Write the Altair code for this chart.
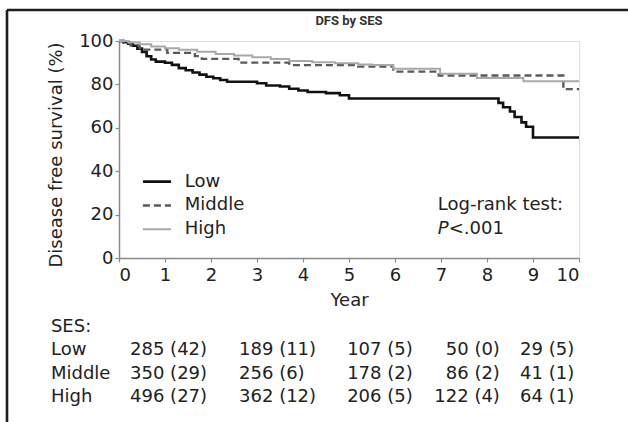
import altair as alt
import pandas as pd

# ---- survival curves (Kaplan-Meier, step-after) ----
groups = ["Low", "Middle", "High"]

t_low = [0, 0.1, 0.2, 0.3, 0.4, 0.5, 0.6, 0.7, 0.8, 1.0, 1.15, 1.3, 1.45, 1.6, 1.75, 1.9,
         2.05, 2.2, 2.35, 3.0, 3.2, 3.5, 3.7, 3.9, 4.1, 4.5, 4.8, 5.0,
         8.25, 8.35, 8.5, 8.6, 8.75, 8.85, 9.0, 10]
s_low = [100, 99.5, 98.8, 97.8, 96.5, 95, 93, 91.5, 90.5, 90, 89, 87.5, 86.5, 85.5, 84.5, 83.5,
         82.8, 82, 81.2, 80.5, 79.5, 79, 78, 77.2, 76.5, 76, 75, 73.5,
         71.5, 69.5, 67.5, 65, 62.5, 60.5, 55.5, 55.5]

t_mid = [0, 0.1, 0.25, 0.45, 1.05, 1.65, 1.8, 2.6, 3.7, 5.2, 5.96, 6.95, 9.66, 10]
s_mid = [100, 99.2, 98, 96, 94.5, 93, 91.8, 90, 88.9, 88.2, 85.9, 84.1, 77.8, 77.8]

t_high = [0, 0.2, 0.45, 0.7, 1.0, 1.3, 1.7, 2.1, 2.5, 2.9, 3.3, 3.7, 4.2, 4.7, 5.2, 5.5,
          5.96, 6.98, 7.78, 8.79, 10]
s_high = [100, 99.3, 98.5, 97.5, 96.7, 96, 95, 94, 93.3, 92.5, 91.7, 90.8, 90.2, 89.7, 89.2, 88.9,
          87.2, 84.9, 82.9, 81.4, 81.4]

# ---- number-at-risk table ----
table_rows = ["SES:", "Low", "Middle", "High"]
risk_low = ["285 (42)", "189 (11)", "107 (5)", "50 (0)", "29 (5)"]
risk_mid = ["350 (29)", "256 (6)", "178 (2)", "86 (2)", "41 (1)"]
risk_high = ["496 (27)", "362 (12)", "206 (5)", "122 (4)", "64 (1)"]

# texts
chart_title = "DFS by SES"
logrank_line1 = "Log-rank test:"
logrank_p = "P"
logrank_rest = "<.001"

# ---- layout constants (not data) ----
FONT = "DejaVu Sans"
FS = 18
W, H = 460, 217
PAD_L, PAD_T = 119, 41
col_anchor = [0.24, 2.61, 4.96, 8.28, 8.72]   # in x-scale units
row_label_anchor = -1.48
legend_x = [0.52, 1.13, 1.43]     # symbol start, symbol end, label start (x units)
legend_y = [35.2, 24.2, 13.2]     # row centres (y units)
ann_x, ann_y = 6.93, [24.2, 13.2]

colors = ["#111111", "#5a5a5a", "#a8a8a8"]
dashes = [[1, 0], [7, 4], [1, 0]]
widths = [2.6, 2.0, 2.0]

curves = pd.concat([
    pd.DataFrame({"t": t_low, "s": s_low, "group": "Low", "ord": 2}),
    pd.DataFrame({"t": t_mid, "s": s_mid, "group": "Middle", "ord": 1}),
    pd.DataFrame({"t": t_high, "s": s_high, "group": "High", "ord": 0}),
])

xscale = alt.Scale(domain=[0, 10], nice=False)
yscale = alt.Scale(domain=[0, 100], nice=False)
cscale = alt.Scale(domain=groups, range=colors)
dscale = alt.Scale(domain=groups, range=dashes)
wscale = alt.Scale(domain=groups, range=widths)

lines = alt.Chart(curves).mark_line(interpolate="step-after").encode(
    x=alt.X("t:Q", scale=xscale, axis=alt.Axis(
        values=list(range(11)), format="d", tickSize=4, labelPadding=4,
        labelFontSize=FS, labelFont=FONT, labelColor="#222",
        domainColor="#8a8a8a", tickColor="#8a8a8a", domainWidth=1.5, tickWidth=1.2,
        grid=False, title="Year", titleFontSize=FS, titleFont=FONT,
        titleFontWeight="normal", titleColor="#222", titleY=47,
        titleBaseline="alphabetic")),
    y=alt.Y("s:Q", scale=yscale, axis=alt.Axis(
        values=[0, 20, 40, 60, 80, 100], tickSize=4, labelPadding=2,
        labelFontSize=FS, labelFont=FONT, labelColor="#222",
        domainColor="#8a8a8a", tickColor="#8a8a8a", domainWidth=1.5, tickWidth=1.2,
        grid=False, title="Disease free survival (%)", titleFontSize=FS,
        titleFont=FONT, titleFontWeight="normal", titleColor="#222",
        titleX=-58, titleY=H / 2 + 5, titleAngle=270, titleBaseline="alphabetic",
        titleAlign="center")),
    color=alt.Color("group:N", scale=cscale, legend=None),
    strokeDash=alt.StrokeDash("group:N", scale=dscale, legend=None),
    strokeWidth=alt.StrokeWidth("group:N", scale=wscale, legend=None),
    order=alt.Order("ord:Q"),
)

# custom legend inside the plot
leg = pd.DataFrame({"group": groups, "x0": legend_x[0], "x1": legend_x[1],
                    "xl": legend_x[2], "y": legend_y})
leg_lines = alt.Chart(leg).mark_rule().encode(
    x=alt.X("x0:Q", scale=xscale), x2="x1:Q", y=alt.Y("y:Q", scale=yscale),
    color=alt.Color("group:N", scale=cscale, legend=None),
    strokeDash=alt.StrokeDash("group:N", scale=dscale, legend=None),
    strokeWidth=alt.StrokeWidth("group:N", scale=wscale, legend=None),
)
leg_text = alt.Chart(leg).mark_text(align="left", baseline="middle", font=FONT,
                                    fontSize=FS, color="#222").encode(
    x=alt.X("xl:Q", scale=xscale), y=alt.Y("y:Q", scale=yscale), text="group:N")

# log-rank annotation
ann = pd.DataFrame({"t": [ann_x], "s1": [ann_y[0]], "s2": [ann_y[1]],
                    "l1": [logrank_line1], "p": [logrank_p], "rest": [logrank_rest]})
ann1 = alt.Chart(ann).mark_text(align="left", baseline="middle", font=FONT,
                                fontSize=FS, color="#222").encode(
    x=alt.X("t:Q", scale=xscale), y=alt.Y("s1:Q", scale=yscale), text="l1:N")
ann2 = alt.Chart(ann).mark_text(align="left", baseline="middle", font=FONT,
                                fontSize=FS, fontStyle="italic", color="#222").encode(
    x=alt.X("t:Q", scale=xscale), y=alt.Y("s2:Q", scale=yscale), text="p:N")
ann3 = alt.Chart(ann).mark_text(align="left", baseline="middle", font=FONT,
                                fontSize=FS, dx=11, color="#222").encode(
    x=alt.X("t:Q", scale=xscale), y=alt.Y("s2:Q", scale=yscale), text="rest:N")

# table
recs = []
for r, name in enumerate(table_rows):
    recs.append({"row": r, "col": -1, "text": name})
for r, vals in zip([1, 2, 3], [risk_low, risk_mid, risk_high]):
    for c, v in enumerate(vals):
        recs.append({"row": r, "col": c, "text": v})
tab = pd.DataFrame(recs)
anchor_map = {-1: row_label_anchor}
anchor_map.update({i: a for i, a in enumerate(col_anchor)})
tab["pos"] = tab["col"].map(anchor_map)
tab["al"] = tab["col"].map(lambda c: "right" if c == 3 else "left")

rowscale = alt.Scale(domain=[0, 3], range=[286, 356])
tab_left = alt.Chart(tab[tab["al"] == "left"]).mark_text(
    align="left", baseline="middle", font=FONT, fontSize=FS, color="#222").encode(
    x=alt.X("pos:Q", scale=xscale), y=alt.Y("row:Q", scale=rowscale, axis=None), text="text:N")
tab_right = alt.Chart(tab[tab["al"] == "right"]).mark_text(
    align="right", baseline="middle", font=FONT, fontSize=FS, color="#222").encode(
    x=alt.X("pos:Q", scale=xscale), y=alt.Y("row:Q", scale=rowscale, axis=None), text="text:N")

one = pd.DataFrame({"title": [chart_title]})

# title as text above the plot
title_mark = alt.Chart(one).mark_text(
    font="Roboto", fontSize=13, fontWeight="bold", color="#333",
    align="center", baseline="middle").encode(
    x=alt.value(W / 2), y=alt.value(-20), text="title:N")

# outer frame (decoration)
frame_top = alt.Chart(one).mark_rule(color="#1e1e1e", strokeWidth=2.6).encode(
    x=alt.value(-112), x2=alt.value(628 - PAD_L), y=alt.value(-31))
frame_left = alt.Chart(one).mark_rule(color="#1e1e1e", strokeWidth=2.6).encode(
    x=alt.value(-112), y=alt.value(-31), y2=alt.value(422 - PAD_T))

main = alt.layer(lines, leg_lines, leg_text, ann1, ann2, ann3)
table = alt.layer(tab_left, tab_right)

chart = alt.layer(main, table, title_mark, frame_top, frame_left).resolve_scale(
    y="independent"
).properties(
    width=W, height=H,
    autosize=alt.AutoSizeParams(type="none"),
    padding={"left": PAD_L, "top": PAD_T, "right": 628 - PAD_L - W, "bottom": 422 - PAD_T - H},
).configure_view(stroke="#8a8a8a", strokeWidth=1.5).configure(background="white")

chart.save("out.html", embed_options={"renderer": "svg", "actions": False})
